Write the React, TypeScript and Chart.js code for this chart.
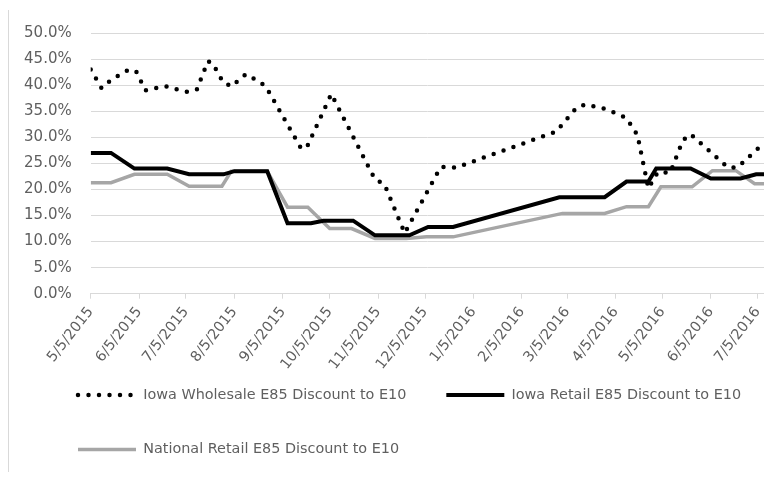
import React, { useEffect, useRef } from "react";
import { Chart, registerables } from "chart.js";

Chart.register(...registerables);

const START_DATE = "5/5/2015";
const AXIS_END_DATE = "7/9/2016";

const tickLabels = [
  "5/5/2015", "6/5/2015", "7/5/2015", "8/5/2015", "9/5/2015", "10/5/2015",
  "11/5/2015", "12/5/2015", "1/5/2016", "2/5/2016", "3/5/2016", "4/5/2016",
  "5/5/2016", "6/5/2016", "7/5/2016",
];

const seriesLabels = [
  "Iowa Wholesale E85 Discount to E10",
  "Iowa Retail E85 Discount to E10",
  "National Retail E85 Discount to E10",
];

// Iowa wholesale E85 discount to E10 (%)
const wholesaleDates = [
  "5/5/2015", "5/12/2015", "5/17/2015", "5/23/2015", "5/29/2015", "6/3/2015",
  "6/9/2015", "6/15/2015", "6/22/2015", "6/29/2015", "7/6/2015", "7/12/2015",
  "7/19/2015", "7/22/2015", "7/29/2015", "8/4/2015", "8/9/2015", "8/13/2015",
  "8/25/2015", "9/17/2015", "9/21/2015", "10/6/2015", "11/3/2015", "11/9/2015",
  "11/22/2015", "12/15/2015", "12/25/2015", "2/27/2016", "3/11/2016", "3/17/2016",
  "3/30/2016", "4/12/2016", "4/19/2016", "4/26/2016", "5/2/2016", "5/10/2016",
  "5/18/2016", "5/23/2016", "6/16/2016", "6/22/2016", "7/9/2016",
];
const wholesaleValues = [
  43.0, 39.4, 40.7, 41.9, 42.9, 42.7,
  39.0, 39.4, 39.8, 39.2, 38.7, 39.2,
  44.6, 44.2, 40.4, 39.8, 41.5, 42.1,
  39.8, 27.7, 28.5, 38.3, 21.9, 21.0,
  11.6, 24.3, 24.2, 31.1, 35.7, 36.3,
  35.4, 33.7, 30.4, 20.2, 23.3, 23.2,
  29.4, 30.6, 24.2, 24.2, 28.9,
];

// Iowa retail E85 discount to E10 (%)
const iowaRetailDates = [
  "5/5/2015", "5/18/2015", "6/2/2015", "6/23/2015", "7/7/2015", "7/29/2015",
  "8/5/2015", "8/26/2015", "9/8/2015", "9/23/2015", "10/1/2015", "10/20/2015",
  "11/3/2015", "11/25/2015", "12/7/2015", "12/23/2015", "2/29/2016", "3/29/2016",
  "4/12/2016", "4/26/2016", "5/1/2016", "5/23/2016", "6/5/2016", "6/24/2016",
  "7/4/2016", "7/9/2016",
];
const iowaRetailValues = [
  27.0, 27.0, 24.0, 24.0, 22.9, 22.9,
  23.5, 23.5, 13.5, 13.5, 14.0, 14.0,
  11.2, 11.2, 12.8, 12.8, 18.5, 18.5,
  21.5, 21.5, 24.0, 24.0, 22.1, 22.1,
  22.9, 22.9,
];

// National retail E85 discount to E10 (%)
const nationalRetailDates = [
  "5/5/2015", "5/18/2015", "6/2/2015", "6/23/2015", "7/7/2015", "7/28/2015",
  "8/3/2015", "8/26/2015", "9/8/2015", "9/21/2015", "10/5/2015", "10/19/2015",
  "11/3/2015", "11/23/2015", "12/6/2015", "12/23/2015", "3/2/2016", "3/29/2016",
  "4/12/2016", "4/26/2016", "5/4/2016", "5/24/2016", "6/6/2016", "6/21/2016",
  "7/3/2016", "7/9/2016",
];
const nationalRetailValues = [
  21.3, 21.3, 22.9, 22.9, 20.6, 20.6,
  23.5, 23.5, 16.6, 16.6, 12.5, 12.5,
  10.6, 10.6, 10.9, 10.9, 15.4, 15.4,
  16.7, 16.7, 20.5, 20.5, 23.6, 23.6,
  21.1, 21.1,
];

const Y_MIN = 0;
const Y_MAX = 50;
const Y_STEP = 5;

function dayOf(s: string): number {
  const [m, d, y] = s.split("/").map(Number);
  const [m0, d0, y0] = START_DATE.split("/").map(Number);
  return Math.round((Date.UTC(y, m - 1, d) - Date.UTC(y0, m0 - 1, d0)) / 86400000);
}

function toPoints(dates: string[], values: number[]) {
  return dates.map((dt, i) => ({ x: dayOf(dt), y: values[i] }));
}

const tickDays = tickLabels.map(dayOf);

// thin light frame line at the left edge of the picture
const frameLine = {
  id: "frameLine",
  beforeDraw(chart: any) {
    const ctx = chart.ctx;
    ctx.save();
    ctx.strokeStyle = "#d9d9d9";
    ctx.lineWidth = 1;
    ctx.beginPath();
    ctx.moveTo(8.5, 10);
    ctx.lineTo(8.5, 472);
    ctx.stroke();
    ctx.restore();
  },
};

// place the legend block (left inset and vertical position)
const legendPlacement = {
  id: "legendPlacement",
  afterLayout(chart: any) {
    const lg = chart.legend;
    if (!lg) return;
    const h = lg.height;
    lg.left = 38;
    lg.right = 800;
    lg.top = 347.8;
    lg.bottom = lg.top + h;
  },
};

export default function App() {
  const canvasRef = useRef<HTMLCanvasElement | null>(null);

  useEffect(() => {
    const canvas = canvasRef.current;
    if (!canvas) return;
    Chart.defaults.font.family = "'DejaVu Sans', sans-serif";
    const textColor = "#5f5f5f";
    const gridColor = "#d9d9d9";

    const chart = new Chart(canvas, {
      type: "line",
      data: {
        datasets: [
          {
            label: seriesLabels[0],
            data: toPoints(wholesaleDates, wholesaleValues),
            borderColor: "#000000",
            backgroundColor: "#000000",
            borderWidth: 4.5,
            borderDash: [0, 10.5],
            borderCapStyle: "round",
            pointRadius: 0,
            tension: 0,
          },
          {
            label: seriesLabels[1],
            data: toPoints(iowaRetailDates, iowaRetailValues),
            borderColor: "#000000",
            backgroundColor: "#000000",
            borderWidth: 4,
            pointRadius: 0,
            tension: 0,
          },
          {
            label: seriesLabels[2],
            data: toPoints(nationalRetailDates, nationalRetailValues),
            borderColor: "#a6a6a6",
            backgroundColor: "#a6a6a6",
            borderWidth: 3.5,
            pointRadius: 0,
            tension: 0,
          },
        ],
      },
      options: {
        animation: false,
        responsive: false,
        maintainAspectRatio: false,
        layout: { padding: { left: 0, right: 0, top: 33, bottom: -12 } },
        plugins: {
          tooltip: { enabled: false },
          legend: {
            position: "bottom",
            align: "start",
            labels: {
              usePointStyle: true,
              pointStyle: "line",
              pointStyleWidth: 58,
              padding: 40,
              color: textColor,
              font: { size: 14.4 },
              generateLabels: (c: any) =>
                c.data.datasets.map((ds: any, i: number) => ({
                  text: ds.label,
                  fillStyle: ds.borderColor,
                  strokeStyle: ds.borderColor,
                  lineWidth: ds.borderWidth,
                  lineDash: ds.borderDash || [],
                  lineCap: ds.borderCapStyle || "butt",
                  pointStyle: "line",
                  hidden: false,
                  datasetIndex: i,
                  fontColor: textColor,
                })),
            },
          },
        },
        scales: {
          x: {
            type: "linear",
            min: 0,
            max: dayOf(AXIS_END_DATE),
            afterBuildTicks: (scale: any) => {
              scale.ticks = tickDays.map((v) => ({ value: v }));
            },
            afterFit: (scale: any) => {
              scale.height = 79.5;
              scale.paddingLeft = 0;
              scale.paddingRight = 0;
            },
            grid: {
              drawOnChartArea: false,
              drawTicks: true,
              tickLength: 5,
              color: gridColor,
            },
            border: { display: true, color: gridColor, width: 1 },
            ticks: {
              autoSkip: false,
              minRotation: 52,
              maxRotation: 52,
              padding: 5,
              color: textColor,
              font: { size: 14.5 },
              callback: (value: any) => {
                const idx = tickDays.indexOf(Number(value));
                return idx >= 0 ? tickLabels[idx] : "";
              },
            },
          },
          y: {
            min: Y_MIN,
            max: Y_MAX,
            afterFit: (scale: any) => {
              scale.width = 90.7;
            },
            grid: { color: gridColor, drawTicks: false },
            border: { display: false },
            ticks: {
              stepSize: Y_STEP,
              padding: 19,
              color: textColor,
              font: { size: 15 },
              callback: (value: any) => `${Number(value).toFixed(1)}%`,
            },
          },
        },
      },
      plugins: [frameLine, legendPlacement],
    });

    return () => chart.destroy();
  }, []);

  return (
    <div style={{ position: "fixed", left: 0, top: 0, width: 764, height: 480, background: "#ffffff" }}>
      <canvas ref={canvasRef} width={764} height={480} style={{ width: 764, height: 480, display: "block" }} />
    </div>
  );
}
